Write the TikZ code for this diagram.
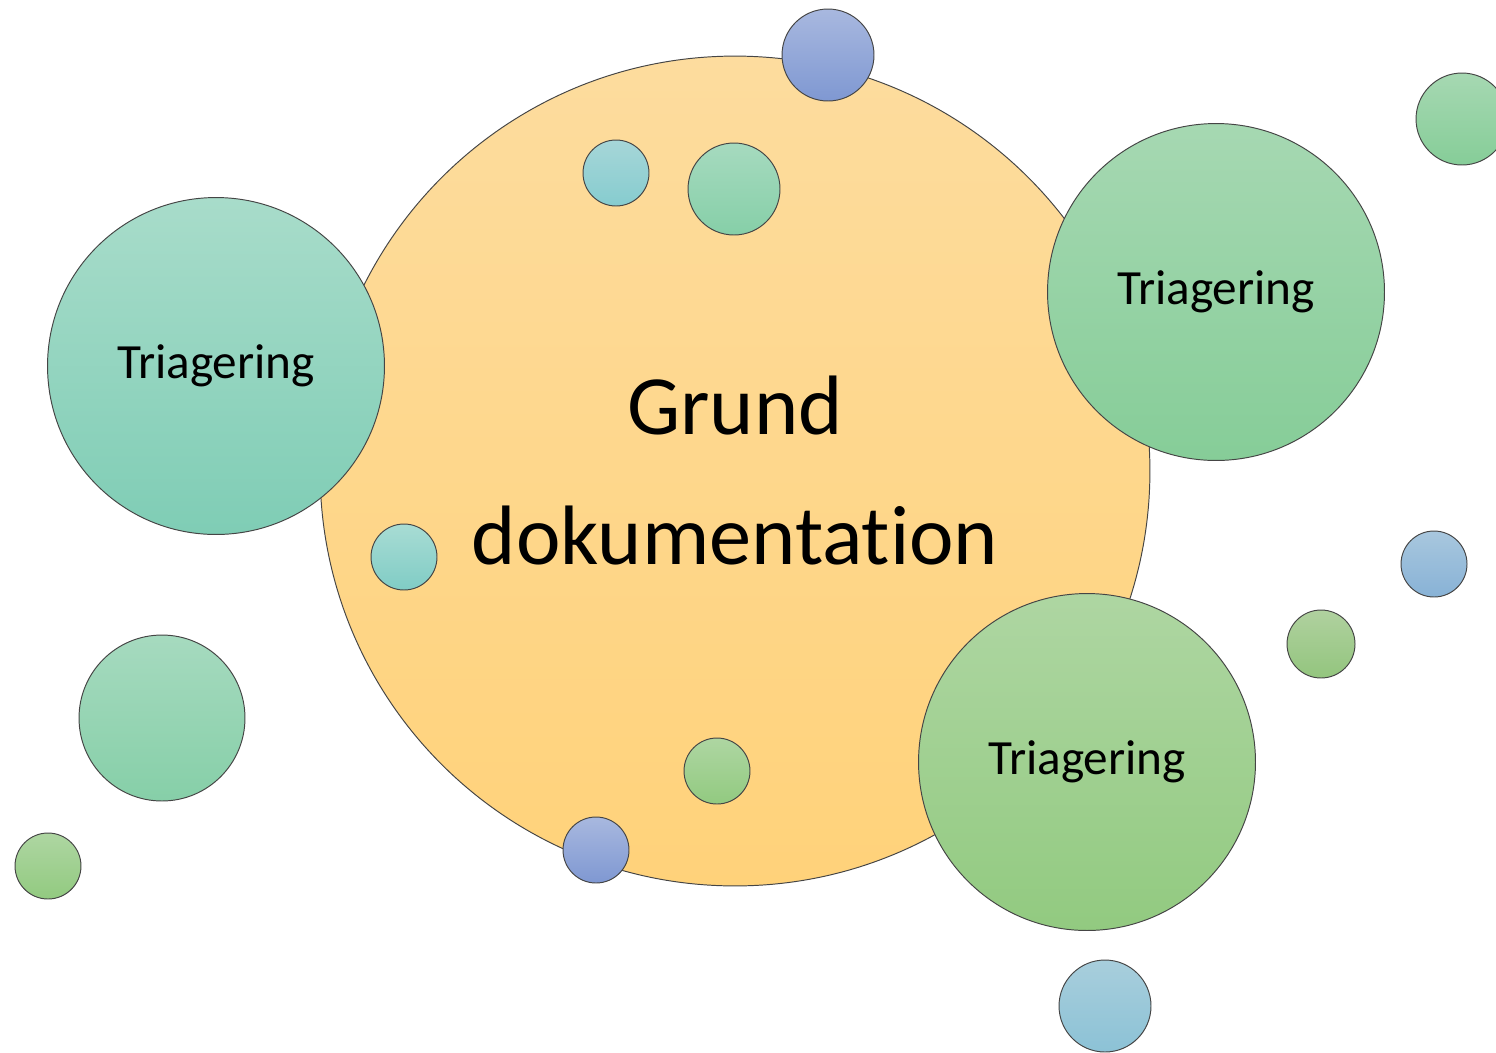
\documentclass[tikz,border=0pt]{standalone}
\usepackage{fontspec}
\setmainfont[Ligatures={NoCommon,NoRare,NoContextual}]{Carlito}
\usepackage{tikz}

\definecolor{edge}{HTML}{454545}
\definecolor{orangeTop}{HTML}{FDDC9E}
\definecolor{orangeBot}{HTML}{FFD27A}
\definecolor{tealTop}{HTML}{A8DCCA}
\definecolor{tealBot}{HTML}{7FCDB5}
\definecolor{greenTop}{HTML}{A6D8B2}
\definecolor{greenBot}{HTML}{86CD98}
\definecolor{leafTop}{HTML}{AED6A2}
\definecolor{leafBot}{HTML}{92CA80}
\definecolor{blueTop}{HTML}{A8B8DF}
\definecolor{blueBot}{HTML}{7F98D2}
\definecolor{cyanTop}{HTML}{A6D6D8}
\definecolor{cyanBot}{HTML}{86CCCF}
\definecolor{aquaTop}{HTML}{A8DCD4}
\definecolor{aquaBot}{HTML}{80CCC5}
\definecolor{mintTop}{HTML}{A6DABF}
\definecolor{mintBot}{HTML}{86CFA8}
\definecolor{oliveTop}{HTML}{B0D19F}
\definecolor{oliveBot}{HTML}{93C57E}
\definecolor{skyTop}{HTML}{A8C7DE}
\definecolor{skyBot}{HTML}{88B2D6}
\definecolor{iceTop}{HTML}{A8CEDC}
\definecolor{iceBot}{HTML}{8CC2D6}

\tikzset{
  bubble/.style 2 args={circle, draw=edge, line width=0.55pt, inner sep=0pt,
    top color=#1, bottom color=#2},
  tiny/.style={minimum size=1.32cm},
  mid/.style={minimum size=1.84cm},
  triage/.style={minimum size=6.74cm, font=\fontsize{28}{34}\selectfont}
}

\begin{document}
\begin{tikzpicture}[x=0.02cm, y=-0.02cm]
\useasboundingbox (0,0) rectangle (1496,1052);
\node [bubble={orangeTop}{orangeBot}, minimum size=16.6cm, align=center,
  font=\fontsize{48}{74}\selectfont] (grund) at (735,471) {Grund\\dokumentation};
\node [bubble={blueTop}{blueBot}, mid] (topblue) at (828,55) {};
\node [bubble={cyanTop}{cyanBot}, tiny] (topcyan) at (616,173) {};
\node [bubble={mintTop}{mintBot}, mid] (topmint) at (734,189) {};
\node [bubble={aquaTop}{aquaBot}, tiny] (leftaqua) at (404,557) {};
\node [bubble={leafTop}{leafBot}, tiny] (botleaf) at (717,771) {};
\node [bubble={blueTop}{blueBot}, tiny] (botblue) at (596,850) {};
\node [bubble={tealTop}{tealBot}, triage] (triageA) at (216,366) {Triagering};
\node [bubble={greenTop}{greenBot}, triage] (triageB) at (1216,292) {Triagering};
\node [bubble={leafTop}{leafBot}, triage] (triageC) at (1087,762) {Triagering};
\node [bubble={mintTop}{mintBot}, minimum size=3.32cm] (leftmint) at (162,718) {};
\node [bubble={leafTop}{leafBot}, tiny] (cornerleaf) at (48,866) {};
\node [bubble={greenTop}{greenBot}, mid] (cornergreen) at (1462,119) {};
\node [bubble={skyTop}{skyBot}, tiny] (rightsky) at (1434,564) {};
\node [bubble={oliveTop}{oliveBot}, minimum size=1.36cm] (rightolive) at (1321,644) {};
\node [bubble={iceTop}{iceBot}, mid] (botice) at (1105,1006) {};
\end{tikzpicture}
\end{document}
